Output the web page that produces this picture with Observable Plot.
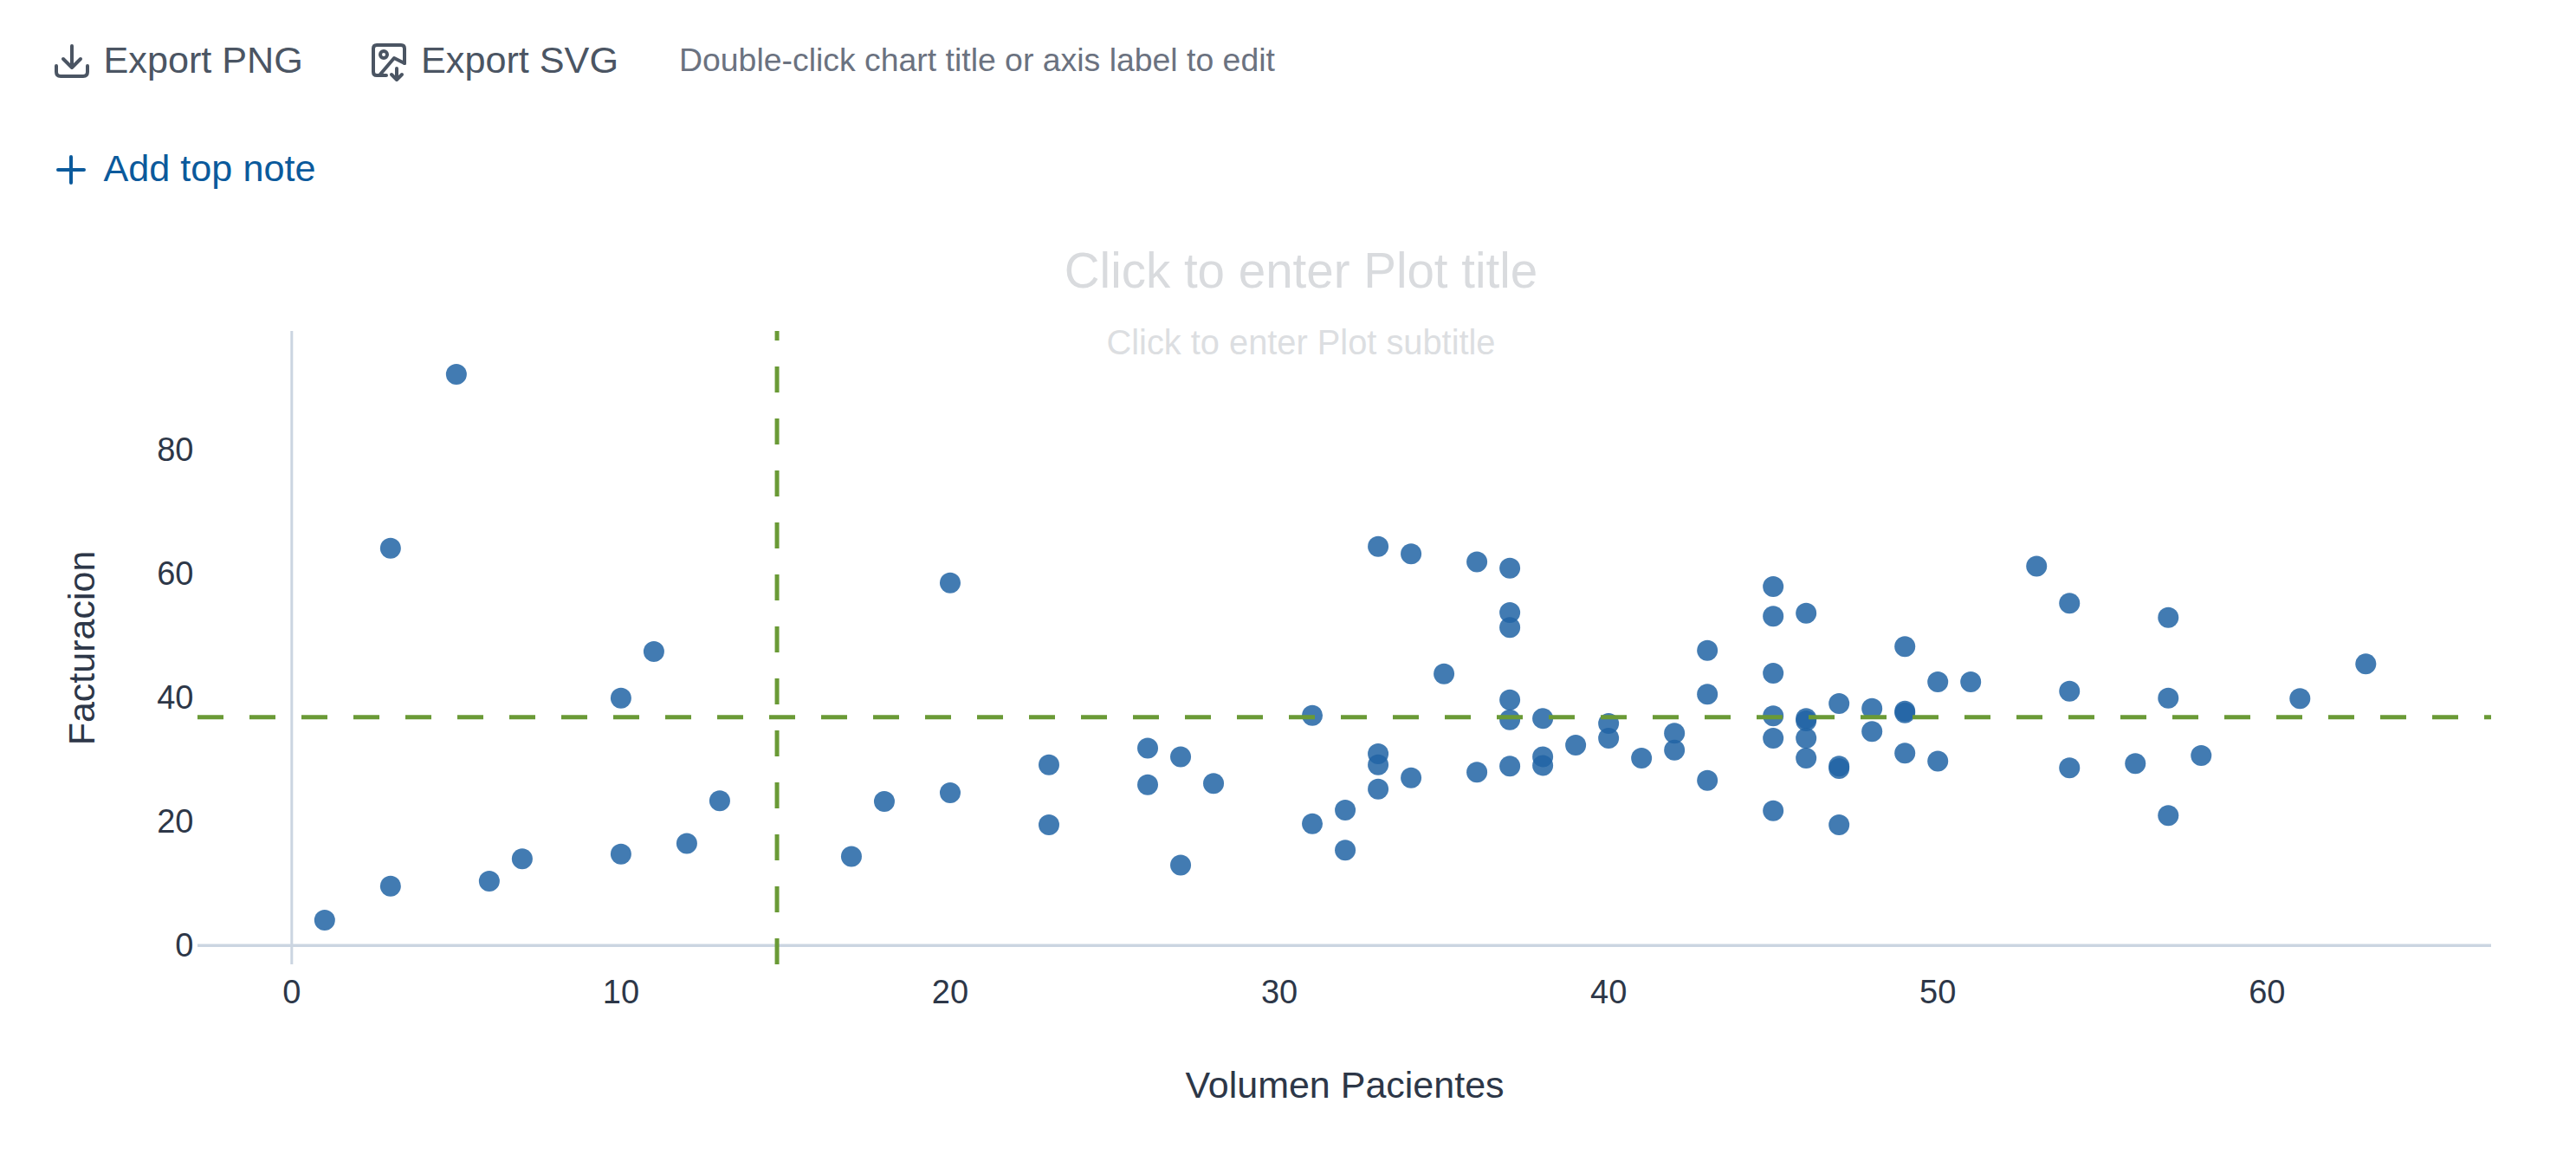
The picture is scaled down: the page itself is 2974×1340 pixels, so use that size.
<!DOCTYPE html>
<html>
<head>
<meta charset="utf-8">
<script src="https://cdn.jsdelivr.net/npm/d3@7"></script>
<script src="https://cdn.jsdelivr.net/npm/@observablehq/plot@0.6"></script>
<style>
html,body{margin:0;padding:0;background:#fff;overflow:hidden}
body{width:2974px;height:1340px;position:relative;font-family:"Liberation Sans",Arial,sans-serif}
.t{position:absolute;white-space:nowrap;line-height:1;transform:translateY(-50%)}
.c{transform:translate(-50%,-50%)}
.i{position:absolute;fill:none;stroke-linecap:round;stroke-linejoin:round}
#chart{position:absolute;left:0;top:0}
#chart svg{display:block}
</style>
</head>
<body>
<div id="chart"></div>
<svg class="i" style="left:62px;top:50px" width="42" height="42" viewBox="0 0 42 42" stroke="#4b5563" stroke-width="4">
  <path d="M21 3V28M11 18L21 28L31 18"/><path d="M3 26V33Q3 38 8 38H34Q39 38 39 33V26"/>
</svg>
<svg class="i" style="left:428px;top:49px" width="44" height="46" viewBox="0 0 44 46" stroke="#4b5563" stroke-width="4">
  <path d="M18 38H7Q3 38 3 34V7Q3 3 7 3H35Q39 3 39 7V24"/><circle cx="15" cy="14" r="4"/><path d="M10 38L27 18L39 24"/><path d="M30 30V42M24 37L30 43L36 37"/>
</svg>
<svg class="i" style="left:64px;top:178px" width="36" height="36" viewBox="0 0 36 36" stroke="#0b5a9c" stroke-width="4">
  <path d="M18 3V33M3 18H33"/>
</svg>
<div class="t" style="left:119.5px;top:70px;font-size:43.2px;color:#4b5563">Export PNG</div>
<div class="t" style="left:486px;top:70px;font-size:43.2px;color:#4b5563">Export SVG</div>
<div class="t" style="left:784px;top:70px;font-size:37.4px;color:#6b7280">Double-click chart title or axis label to edit</div>
<div class="t" style="left:119.5px;top:195px;font-size:43.2px;color:#0b5a9c">Add top note</div>
<div class="t c" style="left:1502px;top:313px;font-size:56.5px;color:#d9dbde">Click to enter Plot title</div>
<div class="t c" style="left:1502px;top:396px;font-size:39.8px;color:#dcdee1">Click to enter Plot subtitle</div>
<script>
const pacientes = [1,3,3,5,6,7,10,10,11,12,13,17,18,20,20,23,23,26,26,27,27,28,31,31,32,32,33,33,33,33,34,34,35,36,36,37,37,37,37,37,37,38,38,38,39,40,40,41,42,42,43,43,43,45,45,45,45,45,45,46,46,46,46,46,47,47,47,47,48,48,49,49,49,49,50,50,51,53,54,54,54,56,57,57,57,58,61,63];
const facturacion = [4.1,9.6,64.2,92.3,10.4,14.0,14.8,40.0,47.5,16.5,23.4,14.4,23.3,24.7,58.6,29.2,19.5,31.9,26.0,30.5,13.0,26.2,37.2,19.7,21.9,15.4,64.5,31.0,29.2,25.3,63.3,27.1,43.9,62.0,28.0,61.0,53.8,51.4,39.7,36.5,29.0,36.7,30.5,29.1,32.4,35.9,33.5,30.3,34.3,31.6,47.7,40.6,26.7,58.0,53.2,44.0,37.1,33.5,21.8,53.7,36.7,36.3,33.5,30.3,39.1,29.0,28.6,19.5,38.3,34.6,48.3,37.9,37.6,31.1,42.6,29.8,42.6,61.3,55.3,41.1,28.7,29.4,53.0,40.0,21.0,30.7,39.9,45.5];
const xTicks = [0,10,20,30,40,50,60];
const yTicks = [0,20,40,60,80];
const meanX = [14.74];
const meanY = [36.9];
const xDomain = [-2.85, 66.82];
const yDomain = [-3.1, 99.24];
const points = pacientes.map((p, i) => ({p, f: facturacion[i]}));
const ink = "#2d3748", axisLine = "#cbd5e1", refLine = "#6a9a36";

const chart = Plot.plot({
  width: 2974, height: 1340,
  marginLeft: 228, marginRight: 98, marginTop: 382, marginBottom: 227,
  style: {fontFamily: '"Liberation Sans", Arial, sans-serif', background: "transparent", overflow: "visible"},
  x: {domain: xDomain},
  y: {domain: yDomain},
  marks: [
    Plot.ruleX([0], {stroke: axisLine, strokeWidth: 3}),
    Plot.ruleY([0], {stroke: axisLine, strokeWidth: 3.5}),
    Plot.axisX(xTicks, {tickSize: 0, tickPadding: 18, fontSize: 38, fill: ink, label: "Volumen Pacientes", labelAnchor: "center", labelArrow: "none", labelOffset: 153}),
    Plot.axisY(yTicks, {tickSize: 0, tickPadding: 5, fontSize: 38, fill: ink, label: "Facturacion", labelAnchor: "center", labelArrow: "none", labelOffset: 150}),
    Plot.dot(points, {x: "p", y: "f", r: 12, fill: "#2164a5", fillOpacity: 0.85, stroke: "none"}),
    Plot.ruleY(meanY, {stroke: refLine, strokeWidth: 5, strokeDasharray: "30,30"}),
    Plot.ruleX(meanX, {y1: yDomain[0], y2: yDomain[1], stroke: refLine, strokeWidth: 5, strokeDasharray: "30,30"})
  ]
});
chart.querySelectorAll('[aria-label="x-axis label"] text, [aria-label="y-axis label"] text').forEach(t => { t.style.fontSize = "43px"; t.style.fill = ink; });
document.getElementById("chart").append(chart);
</script>
</body>
</html>
